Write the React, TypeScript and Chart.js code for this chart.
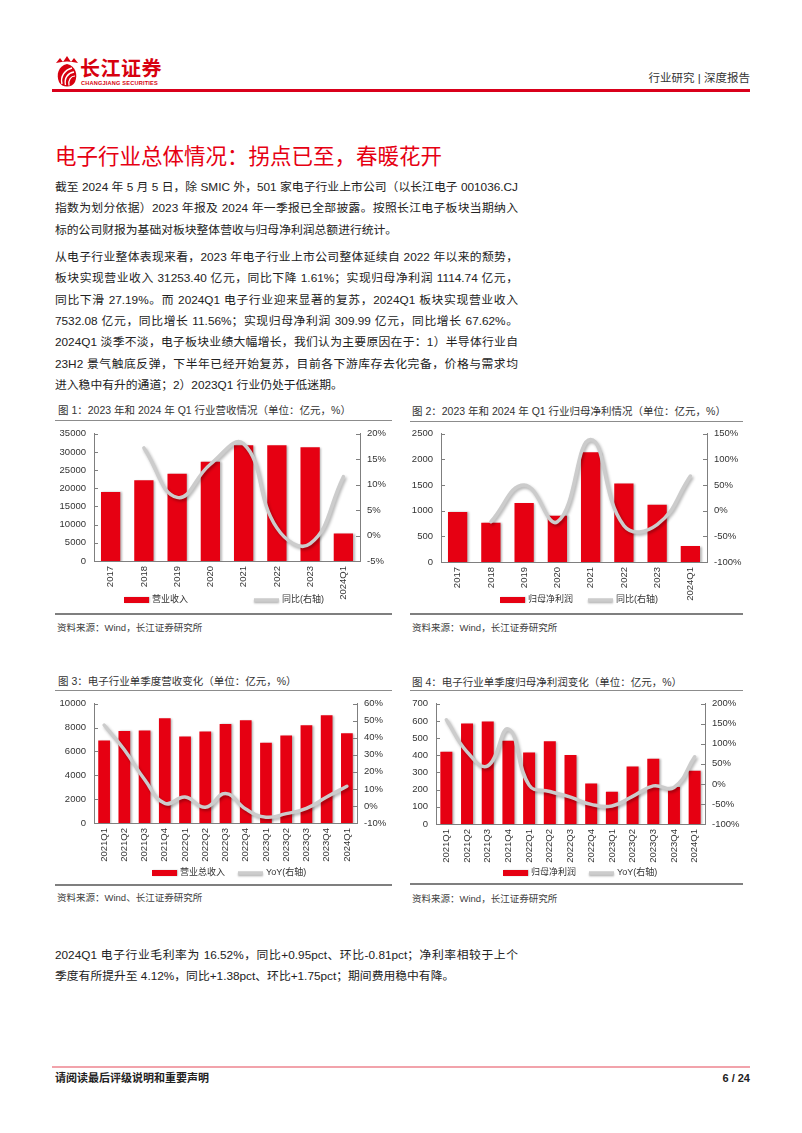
import React, { useEffect, useRef } from 'react';
import { Chart, registerables } from 'chart.js';

Chart.register(...registerables);

const FONT = '"Liberation Sans", "Noto Sans CJK SC", Arial, sans-serif';
const RED = '#e60012';
const GRAY_LINE = '#cccccc';
const AXIS = '#7f7f7f';
const TICK = '#333333';

// ---------- data ----------
const annualLabels = ['2017', '2018', '2019', '2020', '2021', '2022', '2023', '2024Q1'];
const annualRevenue = [19000, 22200, 24000, 27300, 31800, 31800, 31253.4, 7532.08];
const annualRevenueYoY = [null, 17.2, 7.5, 14.0, 18.0, 1.5, -1.61, 11.56];
const annualProfit = [975, 763, 1148, 900, 2140, 1532, 1114.74, 309.99];
const annualProfitYoY = [null, -21.5, 50.0, -21.6, 138.5, -29.0, -27.19, 67.62];

const quarterLabels = ['2021Q1', '2021Q2', '2021Q3', '2021Q4', '2022Q1', '2022Q2', '2022Q3', '2022Q4', '2023Q1', '2023Q2', '2023Q3', '2023Q4', '2024Q1'];
const quarterRevenue = [6910, 7720, 7750, 8770, 7250, 7670, 8300, 8610, 6730, 7330, 8190, 9030, 7532.08];
const quarterRevenueYoY = [47.5, 33.0, 15.5, 1.5, 5.3, -0.8, 7.3, -1.8, -6.6, -4.5, -1.4, 5.3, 11.56];
const quarterProfit = [420, 585, 597, 484, 416, 482, 401, 235, 187, 335, 379, 216, 309.99];
const quarterProfitYoY = [160, 80, 45, 137, -3, -19, -33, -51, -55, -31, -5, -9, 67.62];

// ---------- plugin: shadows, inward ticks, custom legend ----------
const decorPlugin: any = {
  id: 'decor',
  beforeDatasetDraw(chart: any, args: any) {
    const ds = chart.data.datasets[args.index];
    const ctx = chart.ctx;
    ctx.save();
    if (ds.type === 'line') {
      ctx.shadowColor = 'rgba(0,0,0,0.3)';
      ctx.shadowBlur = 3;
      ctx.shadowOffsetX = 1.5;
      ctx.shadowOffsetY = 2;
    } else {
      ctx.shadowColor = 'rgba(0,0,0,0.28)';
      ctx.shadowBlur = 2;
      ctx.shadowOffsetX = 1.5;
      ctx.shadowOffsetY = 0.5;
    }
  },
  afterDatasetDraw(chart: any) {
    chart.ctx.restore();
  },
  afterDraw(chart: any, _args: any, opts: any) {
    const ctx = chart.ctx;
    ctx.save();
    ctx.strokeStyle = AXIS;
    ctx.lineWidth = 1;
    ['y', 'y1'].forEach((id) => {
      const s = chart.scales[id];
      if (!s) return;
      const x = id === 'y' ? s.right : s.left;
      const dir = id === 'y' ? 1 : -1;
      s.ticks.forEach((_t: any, i: number) => {
        const py = Math.round(s.getPixelForTick(i)) + 0.5;
        ctx.beginPath();
        ctx.moveTo(x, py);
        ctx.lineTo(x + dir * 4, py);
        ctx.stroke();
      });
    });
    ctx.restore();

    // legend
    ctx.save();
    ctx.font = `9px ${FONT}`;
    ctx.textBaseline = 'middle';
    let x = opts.legendX;
    const y = chart.chartArea.bottom + opts.legendOffset;
    chart.data.datasets.forEach((ds: any) => {
      if (ds.type === 'bar') {
        ctx.save();
        ctx.shadowColor = 'rgba(0,0,0,0.25)';
        ctx.shadowBlur = 1.5;
        ctx.shadowOffsetX = 1;
        ctx.fillStyle = ds.backgroundColor;
        ctx.fillRect(x, y - 3, 25, 6);
        ctx.restore();
      } else {
        ctx.save();
        ctx.shadowColor = 'rgba(0,0,0,0.3)';
        ctx.shadowBlur = 2;
        ctx.shadowOffsetY = 1.5;
        ctx.strokeStyle = ds.borderColor;
        ctx.lineWidth = 3.5;
        ctx.beginPath();
        ctx.moveTo(x, y);
        ctx.lineTo(x + 25, y);
        ctx.stroke();
        ctx.restore();
      }
      ctx.fillStyle = '#333';
      ctx.fillText(ds.label, x + 28, y);
      x += 28 + ctx.measureText(ds.label).width + opts.legendGap;
    });
    ctx.restore();
  },
};

type Spec = {
  labels: string[];
  bars: number[];
  line: (number | null)[];
  barLabel: string;
  lineLabel: string;
  yMax: number;
  yStep: number;
  rMin: number;
  rMax: number;
  rStep: number;
  leftW: number;
  rightW: number;
  padTop: number;
  padBottom: number;
  xH: number;
  legendX: number;
  legendOffset: number;
  legendGap: number;
};

function buildConfig(s: Spec): any {
  const tickFont = { size: 9.5, family: FONT };
  return {
    type: 'bar',
    data: {
      labels: s.labels,
      datasets: [
        {
          type: 'bar',
          label: s.barLabel,
          data: s.bars,
          backgroundColor: RED,
          yAxisID: 'y',
          order: 2,
          barPercentage: 0.58,
          categoryPercentage: 1,
        },
        {
          type: 'line',
          label: s.lineLabel,
          data: s.line,
          borderColor: GRAY_LINE,
          borderWidth: 3.5,
          pointRadius: 0,
          tension: 0.45,
          yAxisID: 'y1',
          order: 1,
          fill: false,
          borderCapStyle: 'round',
        },
      ],
    },
    options: {
      animation: false,
      responsive: false,
      maintainAspectRatio: false,
      layout: { padding: { top: s.padTop, bottom: s.padBottom, left: 0, right: 0 } },
      plugins: {
        legend: { display: false },
        tooltip: { enabled: false },
        decor: { legendX: s.legendX, legendOffset: s.legendOffset, legendGap: s.legendGap },
      },
      scales: {
        x: {
          grid: { display: false, drawTicks: false },
          border: { color: AXIS, width: 1 },
          ticks: { autoSkip: false, maxRotation: 90, minRotation: 90, padding: 5, color: TICK, font: tickFont },
          afterFit: (sc: any) => {
            sc.height = s.xH;
          },
        },
        y: {
          position: 'left',
          min: 0,
          max: s.yMax,
          grid: { display: false, drawTicks: false },
          border: { color: AXIS, width: 1 },
          ticks: { stepSize: s.yStep, padding: 8, color: TICK, font: tickFont, callback: (v: any) => String(v) },
          afterFit: (sc: any) => {
            sc.width = s.leftW;
          },
        },
        y1: {
          position: 'right',
          min: s.rMin,
          max: s.rMax,
          grid: { display: false, drawTicks: false },
          border: { color: AXIS, width: 1 },
          ticks: { stepSize: s.rStep, padding: 7, color: TICK, font: tickFont, callback: (v: any) => `${v}%` },
          afterFit: (sc: any) => {
            sc.width = s.rightW;
          },
        },
      },
    },
    plugins: [decorPlugin],
  };
}

function ComboChart({ spec, left, top, width, height }: { spec: Spec; left: number; top: number; width: number; height: number }) {
  const ref = useRef<HTMLCanvasElement>(null);
  useEffect(() => {
    const chart = new Chart(ref.current as HTMLCanvasElement, buildConfig(spec));
    return () => chart.destroy();
  }, []);
  return <canvas ref={ref} width={width} height={height} style={{ position: 'absolute', left, top, width, height }} />;
}

const chart1: Spec = {
  labels: annualLabels, bars: annualRevenue, line: annualRevenueYoY,
  barLabel: '营业收入', lineLabel: '同比(右轴)',
  yMax: 35000, yStep: 5000, rMin: -5, rMax: 20, rStep: 5,
  leftW: 44, rightW: 40, padTop: 8, padBottom: 6, xH: 45,
  legendX: 74, legendOffset: 39, legendGap: 66,
};
const chart2: Spec = {
  labels: annualLabels, bars: annualProfit, line: annualProfitYoY,
  barLabel: '归母净利润', lineLabel: '同比(右轴)',
  yMax: 2500, yStep: 500, rMin: -100, rMax: 150, rStep: 50,
  leftW: 41, rightW: 43, padTop: 7, padBottom: 5, xH: 45,
  legendX: 100, legendOffset: 38, legendGap: 15,
};
const chart3: Spec = {
  labels: quarterLabels, bars: quarterRevenue, line: quarterRevenueYoY,
  barLabel: '营业总收入', lineLabel: 'YoY(右轴)',
  yMax: 10000, yStep: 1000, rMin: -10, rMax: 60, rStep: 10,
  leftW: 44, rightW: 43, padTop: 6, padBottom: 10, xH: 50,
  legendX: 102, legendOffset: 50, legendGap: 13,
};
const chart4: Spec = {
  labels: quarterLabels, bars: quarterProfit, line: quarterProfitYoY,
  barLabel: '归母净利润', lineLabel: 'YoY(右轴)',
  yMax: 700, yStep: 100, rMin: -100, rMax: 200, rStep: 50,
  leftW: 36, rightW: 45, padTop: 7, padBottom: 9, xH: 50,
  legendX: 103, legendOffset: 49, legendGap: 13,
};

function Txt({ x, y, size = 12, color = '#222', w, justify, bold, children }: any) {
  const lh = size * 1.5;
  return (
    <div
      style={{
        position: 'absolute',
        left: x,
        top: y - lh / 2,
        height: lh,
        lineHeight: `${lh}px`,
        fontSize: size,
        color,
        whiteSpace: 'nowrap',
        width: w,
        textAlign: justify ? 'justify' : 'left',
        textAlignLast: justify ? 'justify' : 'auto',
        fontWeight: bold ? 700 : 400,
      } as any}
    >
      {children}
    </div>
  );
}

function HLine({ x1, x2, y, h = 1, color }: any) {
  return <div style={{ position: 'absolute', left: x1, top: y - h / 2, width: x2 - x1, height: h, background: color }} />;
}

const para1 = [
  '截至 2024 年 5 月 5 日，除 SMIC 外，501 家电子行业上市公司（以长江电子 001036.CJ',
  '指数为划分依据）2023 年报及 2024 年一季报已全部披露。按照长江电子板块当期纳入',
  '标的公司财报为基础对板块整体营收与归母净利润总额进行统计。',
];
const para2 = [
  '从电子行业整体表现来看，2023 年电子行业上市公司整体延续自 2022 年以来的颓势，',
  '板块实现营业收入 31253.40 亿元，同比下降 1.61%；实现归母净利润 1114.74 亿元，',
  '同比下滑 27.19%。而 2024Q1 电子行业迎来显著的复苏，2024Q1 板块实现营业收入',
  '7532.08 亿元，同比增长 11.56%；实现归母净利润 309.99 亿元，同比增长 67.62%。',
  '2024Q1 淡季不淡，电子板块业绩大幅增长，我们认为主要原因在于：1）半导体行业自',
  '23H2 景气触底反弹，下半年已经开始复苏，目前各下游库存去化完备，价格与需求均',
  '进入稳中有升的通道；2）2023Q1 行业仍处于低迷期。',
];
const para3 = [
  '2024Q1 电子行业毛利率为 16.52%，同比+0.95pct、环比-0.81pct；净利率相较于上个',
  '季度有所提升至 4.12%，同比+1.38pct、环比+1.75pct；期间费用稳中有降。',
];

function Logo() {
  return (
    <div style={{ position: 'absolute', left: 54, top: 55, width: 120, height: 36 }}>
      <svg width="26" height="34" viewBox="0 0 26 34" style={{ position: 'absolute', left: 0, top: 0 }}>
        <path d="M2 8 L6 3 L9 7 L13 1 L17 7 L20 3 L24 8 Q13 5 2 8 Z" fill="#d7000f" />
        <path d="M13 9 C4 11 2 20 5 27 C8 33 18 33 21 27 C24 20 22 11 13 9 Z" fill="#d7000f" />
        <path d="M8 29 C6 21 11 15 18 13" stroke="#fff" strokeWidth="1.4" fill="none" />
        <path d="M11.5 30 C10 23 14 18 20 17" stroke="#fff" strokeWidth="1.4" fill="none" />
        <path d="M15 30.5 C14 25 17 21 21 21" stroke="#fff" strokeWidth="1.2" fill="none" />
      </svg>
      <div style={{ position: 'absolute', left: 26, top: 2, fontSize: 20, lineHeight: '22px', fontWeight: 700, color: '#d7000f', fontFamily: '"Noto Sans CJK SC", sans-serif', letterSpacing: 0.5, whiteSpace: 'nowrap' }}>
        长江证券
      </div>
      <div style={{ position: 'absolute', left: 27, top: 25, fontSize: 5.6, lineHeight: '7px', fontWeight: 700, color: '#d7000f', fontFamily: FONT, whiteSpace: 'nowrap', letterSpacing: 0.2 }}>
        CHANGJIANG SECURITIES
      </div>
    </div>
  );
}

export default function App() {
  const lh = 21.33;
  const bodySize = 11.8;
  return (
    <div style={{ position: 'absolute', left: 0, top: 0, width: 802, height: 1133, background: '#fff', overflow: 'hidden', fontFamily: FONT }}>
      <Logo />
      <div style={{ position: 'absolute', right: 52, top: 70, fontSize: 11.5, lineHeight: '16px', color: '#333', whiteSpace: 'nowrap' }}>
        行业研究 | 深度报告
      </div>
      <HLine x1={52} x2={750} y={90.5} h={2.5} color="#d9001b" />

      <Txt x={55} y={157} size={21.5} color={RED}>电子行业总体情况：拐点已至，春暖花开</Txt>

      {para1.map((t, i) => (
        <Txt key={'a' + i} x={55} y={188 + i * lh} size={bodySize} w={463} justify={i < para1.length - 1}>{t}</Txt>
      ))}
      {para2.map((t, i) => (
        <Txt key={'b' + i} x={55} y={258 + i * lh} size={bodySize} w={463} justify={i < para2.length - 1}>{t}</Txt>
      ))}

      {/* Figure 1 */}
      <Txt x={58} y={411} size={10.5} color="#333">图 1：2023 年和 2024 年 Q1 行业营收情况（单位：亿元，%）</Txt>
      <HLine x1={55} x2={392} y={420} h={1} color="#8c8c8c" />
      <ComboChart spec={chart1} left={50} top={420} width={350} height={192} />
      <HLine x1={55} x2={392} y={614} h={1.5} color="#7f7f7f" />
      <Txt x={57} y={628} size={9.5} color="#404040">资料来源：Wind，长江证券研究所</Txt>

      {/* Figure 2 */}
      <Txt x={412} y={412} size={10.5} color="#333">图 2：2023 年和 2024 年 Q1 行业归母净利情况（单位：亿元，%）</Txt>
      <HLine x1={410} x2={743} y={421} h={1} color="#8c8c8c" />
      <ComboChart spec={chart2} left={400} top={420} width={350} height={192} />
      <HLine x1={410} x2={743} y={614} h={1.5} color="#7f7f7f" />
      <Txt x={412} y={628} size={9.5} color="#404040">资料来源：Wind，长江证券研究所</Txt>

      {/* Figure 3 */}
      <Txt x={58} y={682} size={10.5} color="#333">图 3：电子行业单季度营收变化（单位：亿元，%）</Txt>
      <HLine x1={55} x2={392} y={690} h={1} color="#8c8c8c" />
      <ComboChart spec={chart3} left={50} top={690} width={350} height={193} />
      <HLine x1={55} x2={392} y={885} h={1.5} color="#7f7f7f" />
      <Txt x={57} y={898} size={9.5} color="#404040">资料来源：Wind、长江证券研究所</Txt>

      {/* Figure 4 */}
      <Txt x={412} y={683} size={10.5} color="#333">图 4：电子行业单季度归母净利润变化（单位：亿元，%）</Txt>
      <HLine x1={410} x2={743} y={690} h={1} color="#8c8c8c" />
      <ComboChart spec={chart4} left={400} top={690} width={350} height={193} />
      <HLine x1={410} x2={743} y={884} h={1.5} color="#7f7f7f" />
      <Txt x={412} y={899} size={9.5} color="#404040">资料来源：Wind，长江证券研究所</Txt>

      {para3.map((t, i) => (
        <Txt key={'c' + i} x={55} y={956 + i * 21} size={bodySize} w={463} justify={i < para3.length - 1}>{t}</Txt>
      ))}

      <HLine x1={52} x2={750} y={1067} h={2} color="#f2a3ab" />
      <Txt x={55} y={1078} size={11} color="#222" bold>请阅读最后评级说明和重要声明</Txt>
      <div style={{ position: 'absolute', right: 52, top: 1070, fontSize: 11, lineHeight: '16px', fontWeight: 700, color: '#222', whiteSpace: 'nowrap' }}>
        6 / 24
      </div>
    </div>
  );
}
